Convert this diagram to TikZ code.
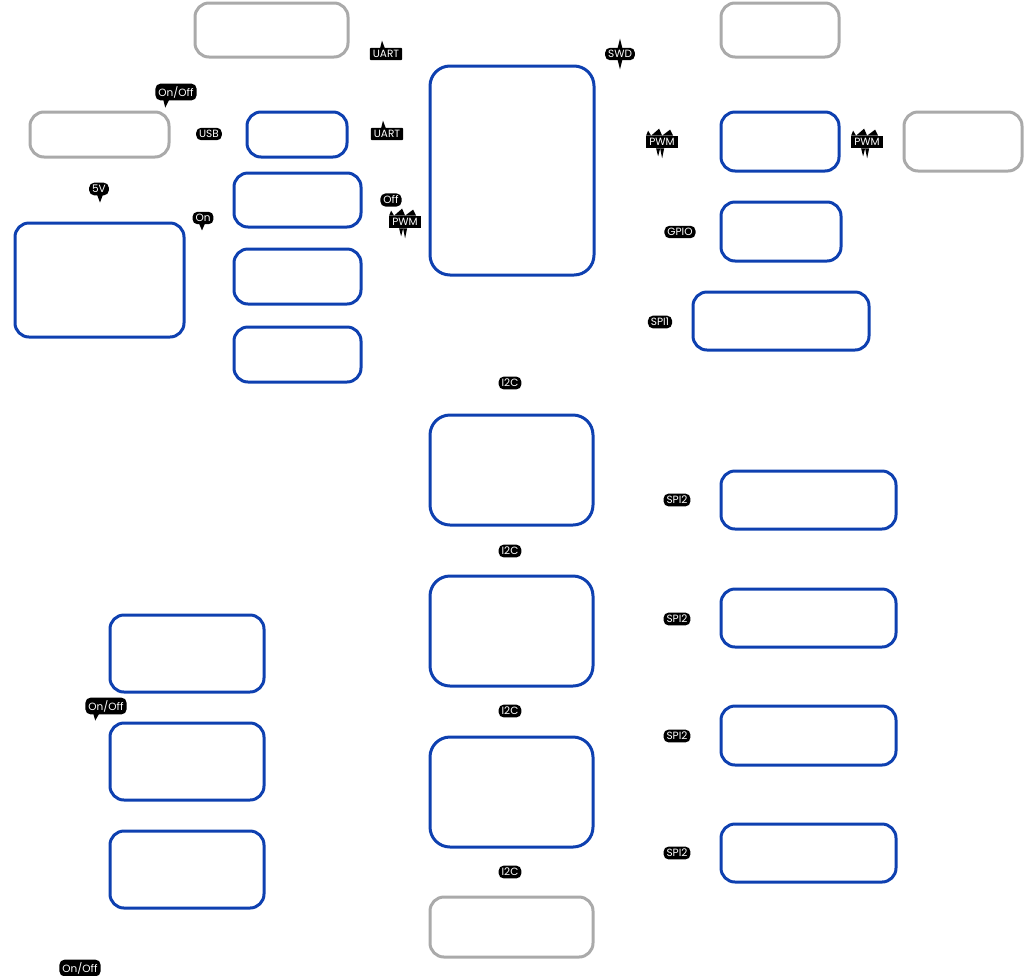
\documentclass[tikz,border=0pt]{standalone}
\usepackage{fontspec}
\newfontfamily\badgefont{Poppins}[FontFace={m}{n}{Poppins Medium}]
\definecolor{boxblue}{RGB}{14,64,176}
\definecolor{boxgray}{RGB}{170,170,170}
\begin{document}
\begin{tikzpicture}[x=1pt,y=-1pt,
  blk/.style={draw=boxblue,line width=3pt,rounded corners=14pt,fill=white},
  gry/.style={draw=boxgray,line width=3pt,rounded corners=14pt,fill=white},
  badge/.style={fill=black,text=white,rounded corners=5pt,inner xsep=3pt,inner ysep=2.5pt,font=\badgefont\fontsize{10.5}{11}\selectfont}]
\useasboundingbox (0,0) rectangle (1024,975);
% gray boxes
\draw[gry] (195,3) rectangle (348,57);
\draw[gry] (30,112) rectangle (169,157);
\draw[gry] (721,3) rectangle (839,57);
\draw[gry] (904,112) rectangle (1022,171);
\draw[gry] (430,897) rectangle (593,957);
% blue boxes
\draw[blk,rounded corners=20pt] (430,66) rectangle (594,275);
\draw[blk] (247,112) rectangle (347,157);
\draw[blk] (234,173) rectangle (361,227);
\draw[blk] (234,249) rectangle (361,304);
\draw[blk] (234,327) rectangle (361,382);
\draw[blk] (15,223) rectangle (184,337);
\draw[blk] (721,112) rectangle (839,171);
\draw[blk] (721,202) rectangle (841,261);
\draw[blk] (693,292) rectangle (869,350);
\draw[blk,rounded corners=20pt] (430,415) rectangle (593,525);
\draw[blk,rounded corners=20pt] (430,576) rectangle (593,686);
\draw[blk,rounded corners=20pt] (430,737) rectangle (593,847);
\draw[blk] (721,471) rectangle (896,529);
\draw[blk] (721,589) rectangle (896,647);
\draw[blk] (721,706) rectangle (896,765);
\draw[blk] (721,824) rectangle (896,882);
\draw[blk] (110,615) rectangle (264,692);
\draw[blk] (110,723) rectangle (264,800);
\draw[blk] (110,831) rectangle (264,908);
% badges
\node[badge] (onoff1) at (176,92) {On/Off};
\node[badge] (usb) at (209,134) {USB};
\node[badge] (fivev) at (99,189) {5V};
\node[badge] (on) at (203,218) {On};
\node[badge,rounded corners=1pt] (uart1) at (386,54) {UART};
\node[badge,rounded corners=1pt] (uart2) at (387,134) {UART};
\node[badge] (off) at (391,200) {Off};
\node[badge,rounded corners=0pt] (pwm1) at (405,222) {PWM};
\node[badge] (swd) at (620,54) {SWD};
\node[badge,rounded corners=0pt] (pwm2) at (662,142) {PWM};
\node[badge,rounded corners=0pt] (pwm3) at (867,142) {PWM};
\node[badge] (gpio) at (680,232) {GPIO};
\node[badge] (spi1) at (660,322) {SPI1};
\node[badge] (i2ca) at (510,383) {I2C};
\node[badge] (i2cb) at (510,551) {I2C};
\node[badge] (i2cc) at (510,711) {I2C};
\node[badge] (i2cd) at (510,872) {I2C};
\node[badge] (spi2a) at (677,500) {SPI2};
\node[badge] (spi2b) at (677,619) {SPI2};
\node[badge] (spi2c) at (677,736) {SPI2};
\node[badge] (spi2d) at (677,853) {SPI2};
\node[badge] (onoff2) at (106,706) {On/Off};
\node[badge] (onoff3) at (80,968) {On/Off};
% tails and spikes
\fill (onoff1.south west) ++(8,-1) -- ++(2,8) -- ++(4,-8) -- cycle;
\fill (onoff2.south west) ++(8,-1) -- ++(2,7) -- ++(4,-7) -- cycle;
\fill (on.south) ++(-4,-1) -- ++(3,7) -- ++(3,-7) -- cycle;
\fill (fivev.south) ++(-2,-1) -- ++(3,8) -- ++(3,-8) -- cycle;
\fill (uart1.north) ++(-6,1) -- ++(2,-8) -- ++(3,8) -- cycle;
\fill (uart2.north) ++(-6,1) -- ++(2,-8) -- ++(3,8) -- cycle;
\fill (swd.north) ++(-2.5,1) -- ++(2.5,-10) -- ++(2.5,10) -- cycle;
\fill (swd.south) ++(-2.5,-1) -- ++(2.5,10) -- ++(2.5,-10) -- cycle;
\foreach \p in {pwm1,pwm2,pwm3}{
  \fill (\p.north west) -- ++(2,-5) -- ++(3,5) -- ++(8,-7) -- ++(3,7) -- ++(8,-6) -- ++(3,6) -- cycle;
  \fill (\p.south west) ++(10,0) -- ++(2,8) -- ++(2,-8) -- ++(2,10) -- ++(2,-10) -- cycle;
}
\end{tikzpicture}
\end{document}
